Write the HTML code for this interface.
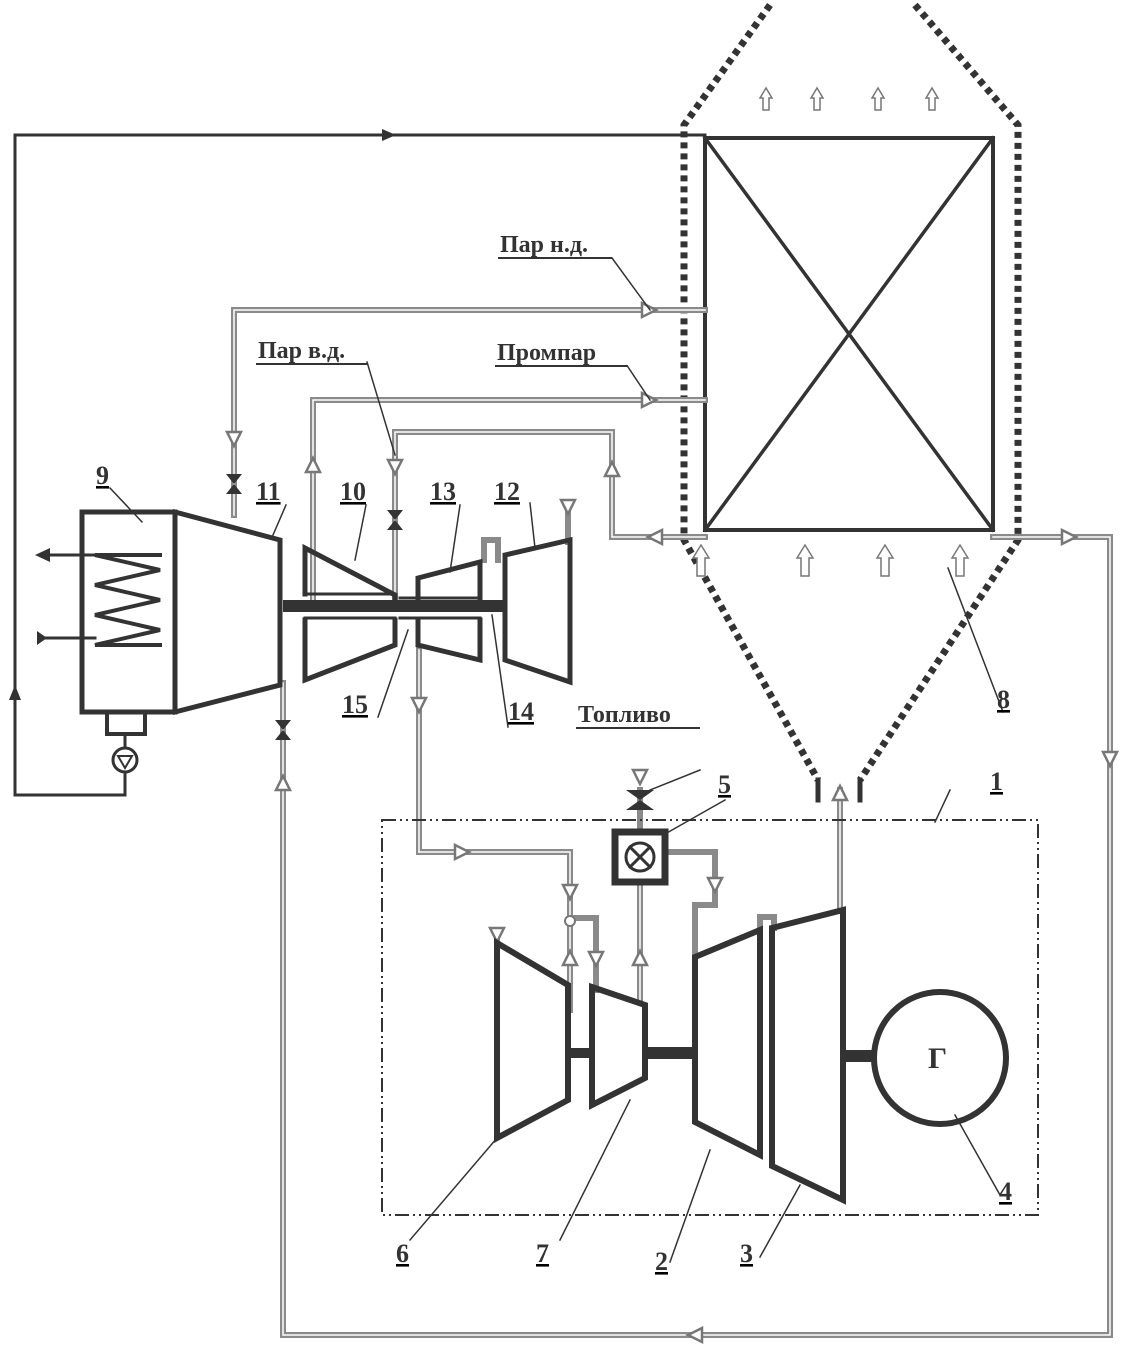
<!DOCTYPE html>
<html><head><meta charset="utf-8"><style>
html,body{margin:0;padding:0;background:#fff;}
svg{display:block;}
text{font-family:"Liberation Serif",serif;font-weight:bold;fill:#333;}
</style></head><body>
<svg width="1128" height="1354" viewBox="0 0 1128 1354" xmlns="http://www.w3.org/2000/svg">
<g fill="none" stroke-linecap="square">
<!-- black feed loop -->
<polyline points="125,775 125,795 15,795 15,135 705,135" stroke="#333" stroke-width="3"/>
<path d="M382,129 L396,135 L382,141 Z" fill="#333"/>
<path d="M9,700 L15,685 L21,700 Z" fill="#333"/>

<!-- casing (dotted) -->
<g stroke="#333" stroke-width="7" stroke-dasharray="6,5" stroke-linecap="butt">
<polyline points="770,5 684,125 684,540 818,780"/>
<polyline points="915,5 1018,125 1018,540 860,780"/>
</g>
<line x1="818" y1="780" x2="818" y2="800" stroke="#333" stroke-width="5"/>
<line x1="860" y1="780" x2="860" y2="800" stroke="#333" stroke-width="5"/>

<!-- HRSG box -->
<rect x="705" y="138" width="288" height="392" stroke="#333" stroke-width="4"/>
<line x1="705" y1="138" x2="993" y2="530" stroke="#333" stroke-width="3.5"/>
<line x1="993" y1="138" x2="705" y2="530" stroke="#333" stroke-width="3.5"/>

<!-- gray pipes -->
<g stroke="#8a8a8a" stroke-width="6">
<polyline points="705,310 234,310 234,515"/>
<polyline points="705,400 313,400 313,600"/>
<polyline points="395,598 395,432 612,432 612,537 705,537"/>
<polyline points="993,537 1110,537 1110,1335 283,1335 283,683"/>
<line x1="419" y1="650" x2="419" y2="852"/>
<polyline points="419,852 570,852 570,1010"/>
<polyline points="570,918 596,918 596,990"/>
<line x1="640" y1="882" x2="640" y2="1000"/>
<polyline points="665,852 715,852 715,905 695,905 695,962"/>
<polyline points="640,790 640,832"/>
<line x1="840" y1="790" x2="840" y2="910"/>
<polyline points="760,928 760,917 774,917 774,928"/>
<polyline points="484,560 484,540 498,540 498,560"/>
<line x1="568" y1="510" x2="568" y2="542"/>
<line x1="497" y1="935" x2="497" y2="940"/>
</g>
<g stroke="#fff" stroke-width="1.5">
<polyline points="705,310 234,310 234,515"/>
<polyline points="705,400 313,400 313,600"/>
<polyline points="395,598 395,432 612,432 612,537 705,537"/>
<polyline points="993,537 1110,537 1110,1335 283,1335 283,683"/>
<line x1="419" y1="650" x2="419" y2="852"/>
<polyline points="419,852 570,852 570,1010"/>
<line x1="640" y1="882" x2="640" y2="1000"/>
<line x1="840" y1="790" x2="840" y2="910"/>
</g>

<!-- hollow arrowheads on pipes -->
<g fill="#fff" stroke="#777" stroke-width="2.5">
<path d="M642,303 L656,310 L642,317 Z"/>
<path d="M642,393 L656,400 L642,407 Z"/>
<path d="M662,530 L648,537 L662,544 Z"/>
<path d="M1062,530 L1076,537 L1062,544 Z"/>
<path d="M702,1328 L688,1335 L702,1342 Z"/>
<path d="M1103,752 L1110,766 L1117,752 Z"/>
<path d="M227,432 L234,446 L241,432 Z"/>
<path d="M306,472 L313,458 L320,472 Z"/>
<path d="M388,460 L395,474 L402,460 Z"/>
<path d="M605,476 L612,462 L619,476 Z"/>
<path d="M276,790 L283,776 L290,790 Z"/>
<path d="M561,500 L568,514 L575,500 Z"/>
<path d="M412,698 L419,712 L426,698 Z"/>
<path d="M455,845 L469,852 L455,859 Z"/>
<path d="M563,885 L570,899 L577,885 Z"/>
<path d="M563,965 L570,951 L577,965 Z"/>
<path d="M589,952 L596,966 L603,952 Z"/>
<path d="M633,965 L640,951 L647,965 Z"/>
<path d="M708,878 L715,892 L722,878 Z"/>
<path d="M833,800 L840,786 L847,800 Z"/>
<path d="M633,770 L640,784 L647,770 Z"/>
<path d="M490,928 L497,942 L504,928 Z"/>
</g>
<circle cx="570" cy="921" r="5" fill="#fff" stroke="#777" stroke-width="2"/>

<!-- valves -->
<g fill="#333">
<path d="M226,474 L242,474 L234,484 Z M226,494 L242,494 L234,484 Z"/>
<path d="M387,510 L403,510 L395,520 Z M387,530 L403,530 L395,520 Z"/>
<path d="M275,720 L291,720 L283,730 Z M275,740 L291,740 L283,730 Z"/>
<path d="M626,790 L654,790 L640,800 Z M626,810 L654,810 L640,800 Z"/>
</g>

<!-- condenser 9 -->
<rect x="82" y="512" width="93" height="200" stroke="#333" stroke-width="5"/>
<polyline points="175,512 280,540 280,685 175,712" stroke="#333" stroke-width="5"/>
<polyline points="160,555 95,555 160,570 95,585 160,600 95,615 160,630 95,645 160,645" stroke="#333" stroke-width="4"/>
<line x1="95" y1="555" x2="45" y2="555" stroke="#333" stroke-width="3"/>
<path d="M35,555 L50,548 L50,562 Z" fill="#333"/>
<line x1="40" y1="638" x2="95" y2="638" stroke="#333" stroke-width="3"/>
<path d="M37,631 L47,638 L37,645 Z" fill="#333"/>
<rect x="107" y="712" width="38" height="22" stroke="#333" stroke-width="4"/>
<line x1="125" y1="734" x2="125" y2="748" stroke="#333" stroke-width="3"/>
<circle cx="125" cy="760" r="12" stroke="#333" stroke-width="3"/>
<path d="M118,756 L132,756 L125,768 Z" stroke="#333" stroke-width="2"/>

<!-- shaft and steam turbines -->
<rect x="283" y="600" width="222" height="12" fill="#333" stroke="none"/>
<g stroke="#333" stroke-width="5">
<polyline points="305,594 305,548 395,595 395,598"/>
<polyline points="305,620 305,680 395,645 395,620"/>
<line x1="305" y1="594" x2="395" y2="594" stroke-width="3"/>
<line x1="305" y1="618" x2="395" y2="618" stroke-width="3"/>
<polyline points="418,598 418,578 480,562 480,598"/>
<polyline points="418,620 418,645 480,660 480,620"/>
<line x1="400" y1="598" x2="480" y2="598" stroke-width="3"/>
<line x1="400" y1="618" x2="480" y2="618" stroke-width="3"/>
<polygon points="505,555 570,540 570,682 505,660"/>
</g>

<!-- gas turbine group -->
<rect x="382" y="820" width="656" height="395" stroke="#333" stroke-width="2" stroke-dasharray="14,4,2,4,2,4" stroke-linecap="butt"/>
<g stroke="#333" stroke-width="6">
<polygon points="497,943 568,985 568,1100 497,1138"/>
<polygon points="592,987 645,1005 645,1078 592,1105"/>
<polygon points="695,957 760,930 760,1155 695,1122"/>
<polygon points="772,928 843,910 843,1200 772,1166"/>
<circle cx="940" cy="1058" r="66"/>
<rect x="615" y="832" width="50" height="50" stroke-width="7"/>
<circle cx="640" cy="857" r="14" stroke-width="3"/>
<line x1="630" y1="847" x2="650" y2="867" stroke-width="3"/>
<line x1="650" y1="847" x2="630" y2="867" stroke-width="3"/>
</g>
<rect x="568" y="1048" width="24" height="10" fill="#333"/>
<rect x="645" y="1047" width="50" height="12" fill="#333"/>
<rect x="843" y="1050" width="33" height="12" fill="#333"/>

<!-- up arrows gas flow -->
<g stroke="#777" stroke-width="1.5" fill="#fff">
<path d="M760,98 L766,88 L772,98 L769,98 L769,110 L763,110 L763,98 Z"/>
<path d="M811,98 L817,88 L823,98 L820,98 L820,110 L814,110 L814,98 Z"/>
<path d="M872,98 L878,88 L884,98 L881,98 L881,110 L875,110 L875,98 Z"/>
<path d="M926,98 L932,88 L938,98 L935,98 L935,110 L929,110 L929,98 Z"/>
<path d="M693,558 L701,545 L709,558 L705,558 L705,576 L697,576 L697,558 Z"/>
<path d="M797,558 L805,545 L813,558 L809,558 L809,576 L801,576 L801,558 Z"/>
<path d="M877,558 L885,545 L893,558 L889,558 L889,576 L881,576 L881,558 Z"/>
<path d="M952,558 L960,545 L968,558 L964,558 L964,576 L956,576 L956,558 Z"/>
</g>

<!-- leader lines -->
<g stroke="#333" stroke-width="1.5">
<line x1="612" y1="258" x2="650" y2="310"/>
<line x1="628" y1="367" x2="650" y2="400"/>
<line x1="367" y1="362" x2="395" y2="455"/>
<line x1="700" y1="770" x2="650" y2="790"/>
<line x1="110" y1="488" x2="142" y2="522"/>
<line x1="286" y1="505" x2="273" y2="535"/>
<line x1="366" y1="505" x2="355" y2="560"/>
<line x1="460" y1="505" x2="450" y2="572"/>
<line x1="530" y1="503" x2="535" y2="548"/>
<line x1="378" y1="717" x2="408" y2="630"/>
<line x1="508" y1="727" x2="492" y2="615"/>
<line x1="1003" y1="712" x2="948" y2="568"/>
<line x1="950" y1="790" x2="935" y2="822"/>
<line x1="725" y1="800" x2="665" y2="834"/>
<line x1="410" y1="1240" x2="497" y2="1138"/>
<line x1="560" y1="1240" x2="630" y2="1100"/>
<line x1="670" y1="1262" x2="710" y2="1150"/>
<line x1="760" y1="1257" x2="800" y2="1185"/>
<line x1="1000" y1="1195" x2="955" y2="1115"/>
</g>
</g>

<!-- labels -->
<g font-size="24">
<text x="500" y="252">Пар н.д.</text>
<text x="497" y="360">Промпар</text>
<text x="258" y="358">Пар в.д.</text>
<text x="578" y="722">Топливо</text>
</g>
<g stroke="#333" stroke-width="2">
<line x1="498" y1="258" x2="612" y2="258"/>
<line x1="495" y1="366" x2="628" y2="366"/>
<line x1="256" y1="364" x2="367" y2="364"/>
<line x1="576" y1="728" x2="700" y2="728"/>
</g>
<g font-size="26" text-decoration="underline">
<text x="96" y="484">9</text>
<text x="256" y="500">11</text>
<text x="340" y="500">10</text>
<text x="430" y="500">13</text>
<text x="494" y="500">12</text>
<text x="342" y="713">15</text>
<text x="508" y="720">14</text>
<text x="997" y="708">8</text>
<text x="718" y="793">5</text>
<text x="990" y="790">1</text>
<text x="999" y="1200">4</text>
<text x="396" y="1262">6</text>
<text x="536" y="1262">7</text>
<text x="655" y="1270">2</text>
<text x="740" y="1262">3</text>
</g>
<text x="928" y="1068" font-size="30">Г</text>
</svg>
</body></html>
